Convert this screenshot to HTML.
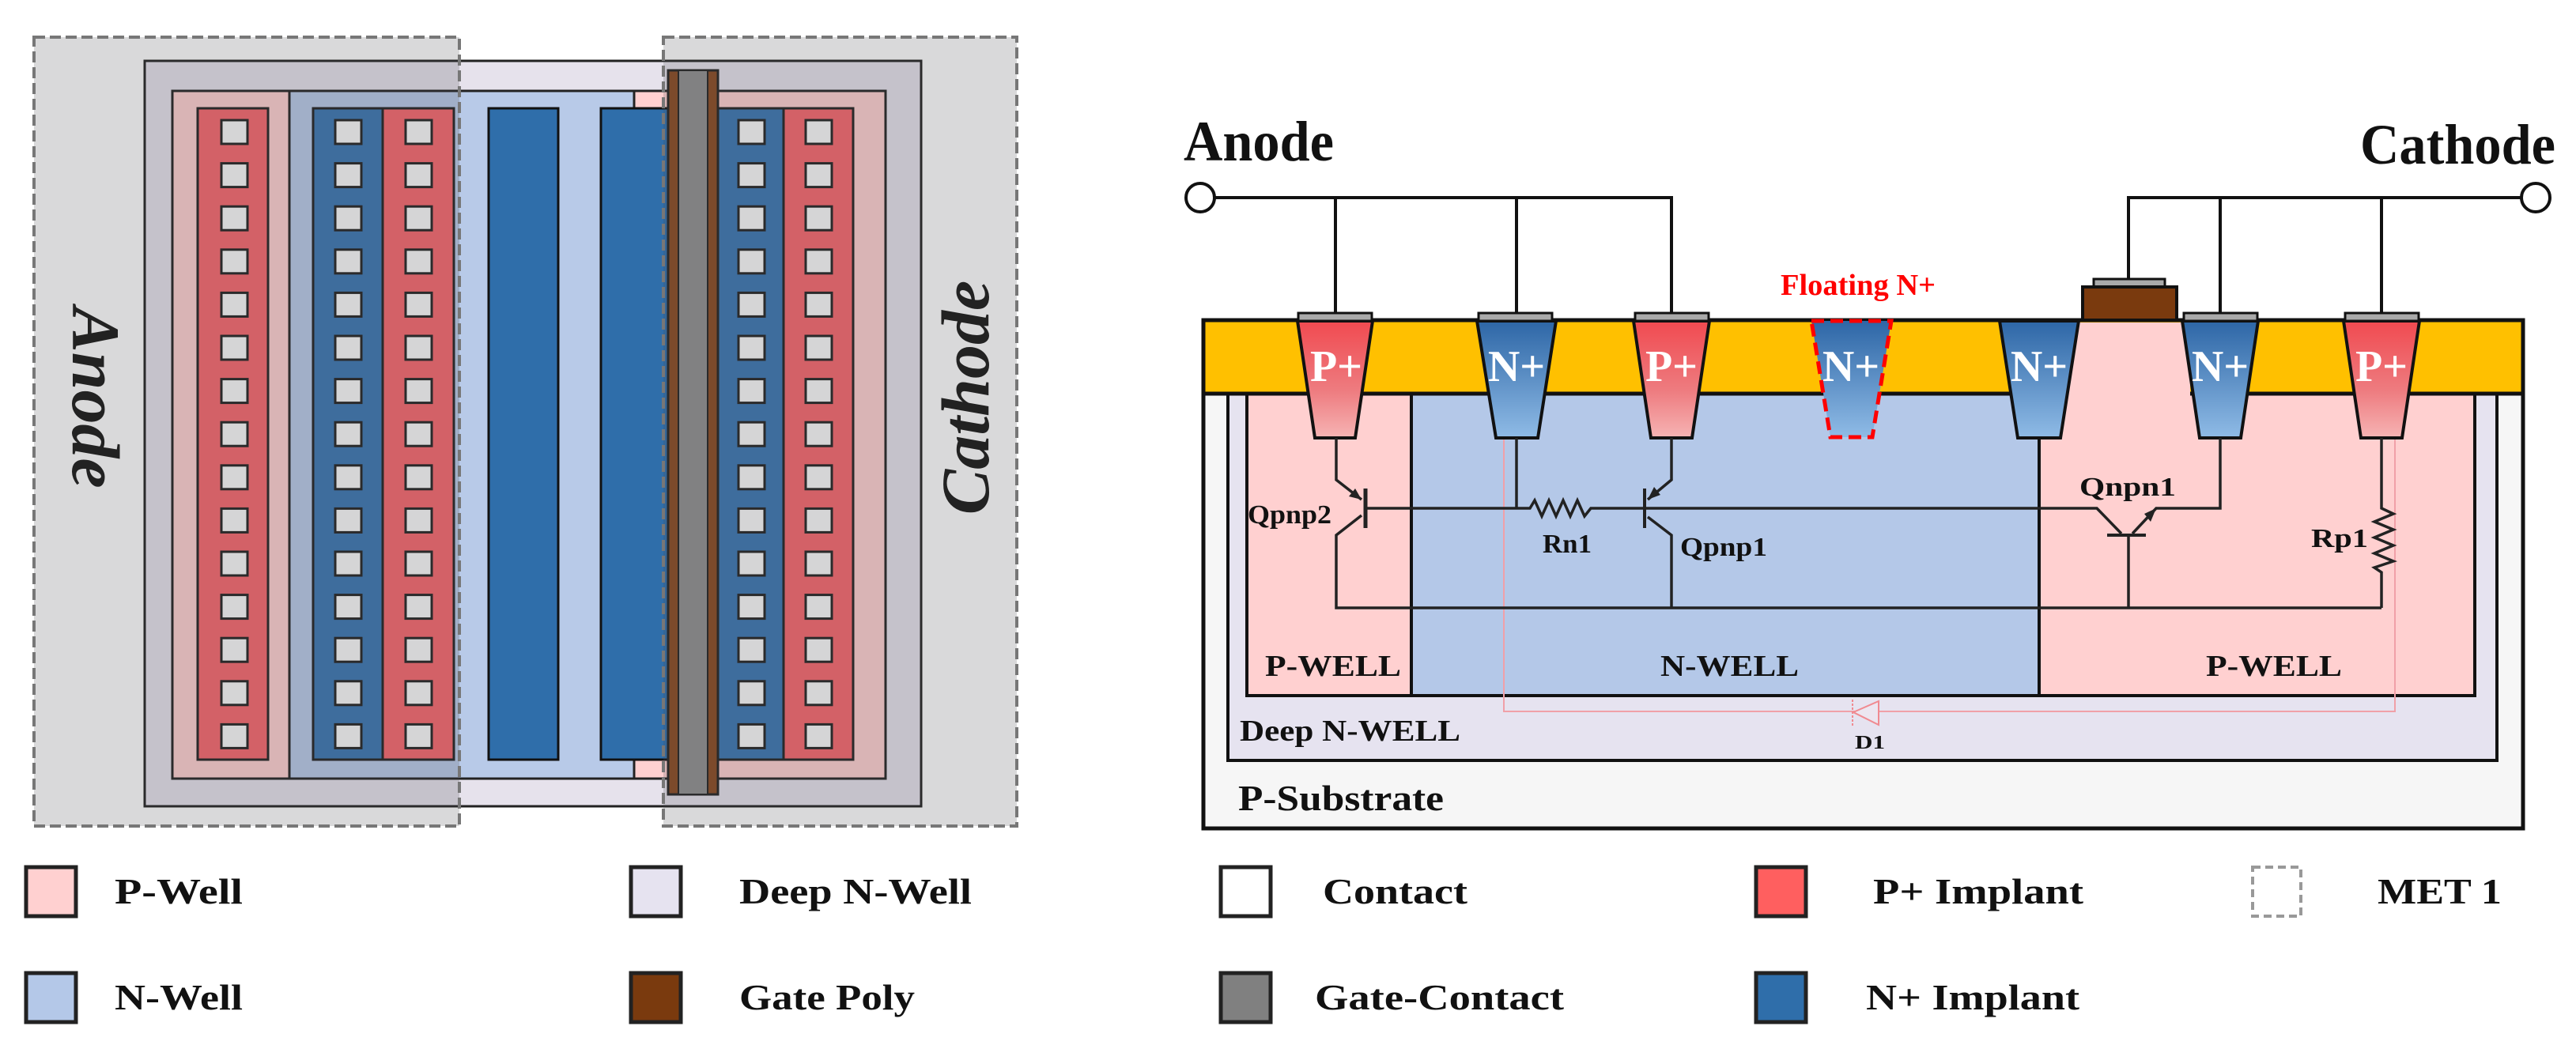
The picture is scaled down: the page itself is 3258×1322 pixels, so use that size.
<!DOCTYPE html>
<html><head><meta charset="utf-8"><style>
html,body{margin:0;padding:0;background:#fff;}
svg{display:block;}
text{font-family:"Liberation Serif",serif;font-weight:bold;}
</style></head><body>
<svg width="3258" height="1322" viewBox="0 0 3258 1322" xmlns="http://www.w3.org/2000/svg">
<defs>
<linearGradient id="gp" x1="0" y1="0" x2="0" y2="1"><stop offset="0" stop-color="#f04a50"/><stop offset="0.6" stop-color="#ee7c80"/><stop offset="1" stop-color="#f6b4b4"/></linearGradient>
<linearGradient id="gn" x1="0" y1="0" x2="0" y2="1"><stop offset="0" stop-color="#2d66a6"/><stop offset="1" stop-color="#8fbbe6"/></linearGradient>
</defs>

<!-- ===== LEFT LAYOUT ===== -->
<rect x="183" y="77" width="982" height="943" fill="#e6e2ec" stroke="#222" stroke-width="3"/>
<rect x="218" y="115" width="584" height="870" fill="#b8cae8" stroke="#222" stroke-width="3"/>
<rect x="802" y="115" width="318" height="870" fill="#ffd0d0" stroke="#222" stroke-width="3"/>
<rect x="218" y="115" width="148" height="870" fill="#ffd0d0" stroke="#222" stroke-width="3"/>
<rect x="366" y="115" width="436" height="870" fill="#b8cae8" stroke="#222" stroke-width="3"/>
<rect x="250" y="137" width="89" height="824" fill="#f8676d" stroke="#222" stroke-width="3"/>
<rect x="396" y="137" width="88" height="824" fill="#3b76b2" stroke="#222" stroke-width="3"/>
<rect x="484" y="137" width="90" height="824" fill="#f8676d" stroke="#222" stroke-width="3"/>
<rect x="618" y="137" width="88" height="824" fill="#2f6eaa" stroke="#111" stroke-width="3"/>
<rect x="760" y="137" width="90" height="824" fill="#2f6eaa" stroke="#111" stroke-width="3"/>
<rect x="908" y="137" width="83" height="824" fill="#3b76b2" stroke="#222" stroke-width="3"/>
<rect x="991" y="137" width="88" height="824" fill="#f8676d" stroke="#222" stroke-width="3"/>
<rect x="845" y="89" width="63" height="916" fill="#8a4a22" stroke="#222" stroke-width="3"/>
<rect x="858" y="89" width="37" height="916" fill="#909090" stroke="#222" stroke-width="2"/>
<g fill="#fafafa" stroke="#222" stroke-width="3">
<rect x="280" y="152" width="33" height="30"/><rect x="280" y="206.6" width="33" height="30"/><rect x="280" y="261.2" width="33" height="30"/><rect x="280" y="315.8" width="33" height="30"/><rect x="280" y="370.4" width="33" height="30"/><rect x="280" y="425" width="33" height="30"/><rect x="280" y="479.6" width="33" height="30"/><rect x="280" y="534.2" width="33" height="30"/><rect x="280" y="588.8" width="33" height="30"/><rect x="280" y="643.4" width="33" height="30"/><rect x="280" y="698" width="33" height="30"/><rect x="280" y="752.6" width="33" height="30"/><rect x="280" y="807.2" width="33" height="30"/><rect x="280" y="861.8" width="33" height="30"/><rect x="280" y="916.4" width="33" height="30"/>
<rect x="424" y="152" width="33" height="30"/><rect x="424" y="206.6" width="33" height="30"/><rect x="424" y="261.2" width="33" height="30"/><rect x="424" y="315.8" width="33" height="30"/><rect x="424" y="370.4" width="33" height="30"/><rect x="424" y="425" width="33" height="30"/><rect x="424" y="479.6" width="33" height="30"/><rect x="424" y="534.2" width="33" height="30"/><rect x="424" y="588.8" width="33" height="30"/><rect x="424" y="643.4" width="33" height="30"/><rect x="424" y="698" width="33" height="30"/><rect x="424" y="752.6" width="33" height="30"/><rect x="424" y="807.2" width="33" height="30"/><rect x="424" y="861.8" width="33" height="30"/><rect x="424" y="916.4" width="33" height="30"/>
<rect x="513" y="152" width="33" height="30"/><rect x="513" y="206.6" width="33" height="30"/><rect x="513" y="261.2" width="33" height="30"/><rect x="513" y="315.8" width="33" height="30"/><rect x="513" y="370.4" width="33" height="30"/><rect x="513" y="425" width="33" height="30"/><rect x="513" y="479.6" width="33" height="30"/><rect x="513" y="534.2" width="33" height="30"/><rect x="513" y="588.8" width="33" height="30"/><rect x="513" y="643.4" width="33" height="30"/><rect x="513" y="698" width="33" height="30"/><rect x="513" y="752.6" width="33" height="30"/><rect x="513" y="807.2" width="33" height="30"/><rect x="513" y="861.8" width="33" height="30"/><rect x="513" y="916.4" width="33" height="30"/>
<rect x="934" y="152" width="33" height="30"/><rect x="934" y="206.6" width="33" height="30"/><rect x="934" y="261.2" width="33" height="30"/><rect x="934" y="315.8" width="33" height="30"/><rect x="934" y="370.4" width="33" height="30"/><rect x="934" y="425" width="33" height="30"/><rect x="934" y="479.6" width="33" height="30"/><rect x="934" y="534.2" width="33" height="30"/><rect x="934" y="588.8" width="33" height="30"/><rect x="934" y="643.4" width="33" height="30"/><rect x="934" y="698" width="33" height="30"/><rect x="934" y="752.6" width="33" height="30"/><rect x="934" y="807.2" width="33" height="30"/><rect x="934" y="861.8" width="33" height="30"/><rect x="934" y="916.4" width="33" height="30"/>
<rect x="1019" y="152" width="33" height="30"/><rect x="1019" y="206.6" width="33" height="30"/><rect x="1019" y="261.2" width="33" height="30"/><rect x="1019" y="315.8" width="33" height="30"/><rect x="1019" y="370.4" width="33" height="30"/><rect x="1019" y="425" width="33" height="30"/><rect x="1019" y="479.6" width="33" height="30"/><rect x="1019" y="534.2" width="33" height="30"/><rect x="1019" y="588.8" width="33" height="30"/><rect x="1019" y="643.4" width="33" height="30"/><rect x="1019" y="698" width="33" height="30"/><rect x="1019" y="752.6" width="33" height="30"/><rect x="1019" y="807.2" width="33" height="30"/><rect x="1019" y="861.8" width="33" height="30"/><rect x="1019" y="916.4" width="33" height="30"/>
</g>
<!-- MET1 overlays -->
<rect x="43" y="47" width="538" height="998" fill="rgba(76,76,80,0.21)" stroke="#777" stroke-width="4" stroke-dasharray="14,6"/>
<rect x="839" y="47" width="447" height="998" fill="rgba(76,76,80,0.21)" stroke="#777" stroke-width="4" stroke-dasharray="14,6"/>
<text transform="translate(92,503) rotate(90)" text-anchor="middle" font-size="86" font-style="italic" fill="#222">Anode</text>
<text transform="translate(1250,503) rotate(-90)" text-anchor="middle" font-size="86" font-style="italic" fill="#222">Cathode</text>

<!-- ===== RIGHT CROSS-SECTION ===== -->
<rect x="1522" y="405" width="1669" height="643" fill="#f6f6f6" stroke="#111" stroke-width="5"/>
<rect x="1553" y="498" width="1605" height="464" fill="#e6e3f0" stroke="#111" stroke-width="4"/>
<rect x="1577" y="498" width="208" height="382" fill="#ffd0d0" stroke="#111" stroke-width="4"/>
<rect x="1785" y="498" width="794" height="382" fill="#b4c8e8" stroke="#111" stroke-width="4"/>
<rect x="2579" y="498" width="551" height="382" fill="#ffd0d0" stroke="#111" stroke-width="4"/>
<rect x="1522" y="405" width="1669" height="93" fill="#ffc000" stroke="#111" stroke-width="5"/>
<rect x="2590" y="408" width="180" height="94" fill="#ffd0d0"/>
<!-- diode loop -->
<polyline points="1902,555 1902,900 3029,900 3029,555" fill="none" stroke="#f0a0a8" stroke-width="2"/>
<polygon points="2344,901 2376,887 2376,917" fill="#ece6f0" stroke="#f08a90" stroke-width="2"/>
<line x1="2343" y1="885" x2="2343" y2="918" stroke="#f08a90" stroke-width="2" stroke-dasharray="3,2"/>
<!-- implants -->
<g stroke="#111" stroke-width="4">
<polygon points="1641,406 1736,406 1714,554 1663,554" fill="url(#gp)"/>
<polygon points="1868,406 1968,406 1945,554 1892,554" fill="url(#gn)"/>
<polygon points="2066,406 2162,406 2140,554 2088,554" fill="url(#gp)"/>
<polygon points="2529,406 2629,406 2606,554 2552,554" fill="url(#gn)"/>
<polygon points="2760,406 2856,406 2834,554 2782,554" fill="url(#gn)"/>
<polygon points="2964,406 3060,406 3038,554 2986,554" fill="url(#gp)"/>
</g>
<polygon points="2291,406 2392,406 2368,553 2315,553" fill="url(#gn)" stroke="#f00" stroke-width="5" stroke-dasharray="16,8"/>
<!-- contacts -->
<g fill="#aaa" stroke="#111" stroke-width="3">
<rect x="1642" y="396" width="93" height="10"/>
<rect x="1870" y="396" width="93" height="10"/>
<rect x="2068" y="396" width="93" height="10"/>
<rect x="2762" y="396" width="93" height="10"/>
<rect x="2966" y="396" width="93" height="10"/>
<rect x="2648" y="353" width="90" height="10"/>
</g>
<rect x="2634" y="363" width="119" height="42" fill="#7a3a0e" stroke="#111" stroke-width="4"/>
<g fill="#fff" font-size="56" text-anchor="middle">
<text x="1690" y="482">P+</text><text x="1918" y="482">N+</text><text x="2114" y="482">P+</text>
<text x="2341" y="482">N+</text><text x="2579" y="482">N+</text><text x="2808" y="482">N+</text><text x="3012" y="482">P+</text>
</g>
<text x="2350" y="373" font-size="38" fill="#f00" text-anchor="middle" textLength="196" lengthAdjust="spacingAndGlyphs">Floating N+</text>
<!-- terminals -->
<g fill="none" stroke="#111" stroke-width="4">
<circle cx="1518" cy="250" r="18" fill="#fff"/>
<circle cx="3207" cy="250" r="18" fill="#fff"/>
<polyline points="1536,250 2114,250 2114,396"/>
<line x1="1689" y1="250" x2="1689" y2="396"/>
<line x1="1918" y1="250" x2="1918" y2="396"/>
<polyline points="3189,250 2692,250 2692,353"/>
<line x1="2808" y1="250" x2="2808" y2="396"/>
<line x1="3012" y1="250" x2="3012" y2="396"/>
</g>
<text x="1497" y="203" font-size="72" fill="#111" textLength="190" lengthAdjust="spacingAndGlyphs">Anode</text>
<text x="2985" y="207" font-size="72" fill="#111" textLength="247" lengthAdjust="spacingAndGlyphs">Cathode</text>
<!-- circuit -->
<g fill="none" stroke="#222" stroke-width="3.5">
<polyline points="1690,554 1690,607 1722,632"/>
<line x1="1727" y1="618" x2="1727" y2="668" stroke-width="5"/>
<polyline points="1722,652 1690,677 1690,769 3012,769"/>
<polyline points="1727,643 1935,643 1941,633 1950,653 1959,633 1968,653 1977,633 1986,653 1995,633 2004,653 2012,643 2080,643"/>
<line x1="1918" y1="554" x2="1918" y2="643"/>
<polyline points="2114,554 2114,607 2084,632"/>
<line x1="2080" y1="618" x2="2080" y2="668" stroke-width="4"/>
<polyline points="2084,654 2114,677 2114,769"/>
<polyline points="2080,643 2652,643 2683,675"/>
<line x1="2665" y1="677" x2="2714" y2="677" stroke-width="4"/>
<polyline points="2697,675 2727,643 2808,643 2808,554"/>
<line x1="2692" y1="677" x2="2692" y2="769"/>
<polyline points="3012,554 3012,643 3027,650 3003,660 3027,670 3003,680 3027,690 3003,700 3027,710 3003,718 3012,724 3012,769"/>
</g>
<g fill="#222">
<polygon points="1722,632 1706,628 1714,618"/>
<polygon points="2084,632 2092,616 2100,626"/>
<polygon points="2727,643 2712,650 2720,660"/>
</g>
<g fill="#111">
<text x="1578" y="662" font-size="34" textLength="106" lengthAdjust="spacingAndGlyphs">Qpnp2</text>
<text x="1951" y="699" font-size="34" textLength="62" lengthAdjust="spacingAndGlyphs">Rn1</text>
<text x="2125" y="703" font-size="34" textLength="110" lengthAdjust="spacingAndGlyphs">Qpnp1</text>
<text x="2630" y="627" font-size="34" textLength="122" lengthAdjust="spacingAndGlyphs">Qnpn1</text>
<text x="2923" y="692" font-size="34" textLength="72" lengthAdjust="spacingAndGlyphs">Rp1</text>
<text x="1600" y="855" font-size="38" textLength="172" lengthAdjust="spacingAndGlyphs">P-WELL</text>
<text x="2100" y="855" font-size="38" textLength="175" lengthAdjust="spacingAndGlyphs">N-WELL</text>
<text x="2790" y="855" font-size="38" textLength="172" lengthAdjust="spacingAndGlyphs">P-WELL</text>
<text x="1568" y="937" font-size="38" textLength="279" lengthAdjust="spacingAndGlyphs">Deep N-WELL</text>
<text x="2346" y="947" font-size="24" textLength="38" lengthAdjust="spacingAndGlyphs">D1</text>
<text x="1566" y="1025" font-size="46" textLength="260" lengthAdjust="spacingAndGlyphs">P-Substrate</text>
</g>

<!-- ===== LEGEND ===== -->
<g stroke="#222" stroke-width="5">
<rect x="33" y="1097" width="63" height="62" fill="#ffd0d0"/>
<rect x="798" y="1097" width="63" height="62" fill="#e6e3f0"/>
<rect x="1544" y="1097" width="63" height="62" fill="#ffffff"/>
<rect x="2221" y="1097" width="63" height="62" fill="#ff5f5f"/>
<rect x="33" y="1231" width="63" height="62" fill="#b4c8e8"/>
<rect x="798" y="1231" width="63" height="62" fill="#7a3a0e"/>
<rect x="1544" y="1231" width="63" height="62" fill="#808080"/>
<rect x="2221" y="1231" width="63" height="62" fill="#2f6eaa"/>
</g>
<rect x="2849" y="1097" width="61" height="62" fill="#fff" stroke="#999" stroke-width="4" stroke-dasharray="10,6"/>
<g fill="#111" font-size="46">
<text x="145" y="1143" textLength="162" lengthAdjust="spacingAndGlyphs">P-Well</text>
<text x="935" y="1143" textLength="294" lengthAdjust="spacingAndGlyphs">Deep N-Well</text>
<text x="1673" y="1143" textLength="183" lengthAdjust="spacingAndGlyphs">Contact</text>
<text x="2369" y="1143" textLength="266" lengthAdjust="spacingAndGlyphs">P+ Implant</text>
<text x="3007" y="1143" textLength="157" lengthAdjust="spacingAndGlyphs">MET 1</text>
<text x="145" y="1277" textLength="162" lengthAdjust="spacingAndGlyphs">N-Well</text>
<text x="935" y="1277" textLength="222" lengthAdjust="spacingAndGlyphs">Gate Poly</text>
<text x="1663" y="1277" textLength="315" lengthAdjust="spacingAndGlyphs">Gate-Contact</text>
<text x="2360" y="1277" textLength="270" lengthAdjust="spacingAndGlyphs">N+ Implant</text>
</g>
</svg>
</body></html>
